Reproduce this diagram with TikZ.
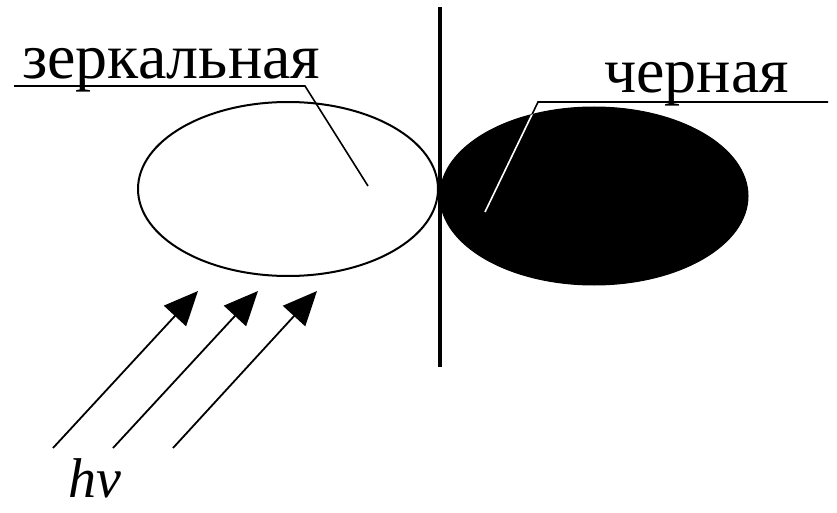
\documentclass[tikz,border=0pt]{standalone}
\usepackage{fontspec}
\setmainfont{Liberation Serif}
\usetikzlibrary{arrows.meta,shapes.geometric}
\begin{document}
\begin{tikzpicture}[x=1pt,y=-1pt,
  lbl/.style={font=\fontsize{64}{70}\selectfont, inner sep=0pt, anchor=base west},
  ray/.style={line width=1.8pt, -{Triangle[length=34pt,width=30pt]}},
  lead/.style={line width=1.6pt}]
\useasboundingbox (0,0) rectangle (837,513);
% black ellipse
\node[ellipse, draw=black, fill=black, line width=1pt, minimum width=308pt, minimum height=178pt, inner sep=0pt] (blk) at (594,196) {};
% white ellipse
\node[ellipse, draw=black, line width=2pt, minimum width=300pt, minimum height=174pt, inner sep=0pt] (mir) at (288,189) {};
% axis
\coordinate (vt) at (440,7);
\coordinate (vb) at (440,367);
\draw[line width=3.6pt] (vt) -- (vb);
% labels
\node[lbl] (tz) at (22,79) {зеркальная};
\node[lbl] (tc) at (604,93) {черная};
\coordinate (zl) at (14,86);
\coordinate (zr) at (305,86);
\coordinate (zp) at (368,186);
\draw[lead] (zl) -- (zr) -- (zp);
\coordinate (cr) at (828,102);
\coordinate (cl) at (538,102);
\coordinate (cp) at (485,212);
\draw[lead] (cr) -- (cl) -- (cp);
\begin{scope}
  \clip (594,196) ellipse [x radius=154, y radius=89];
  \draw[lead, white] (cl) -- (cp);
\end{scope}
% rays
\coordinate (s1) at (53,448);  \coordinate (t1) at (198,291);
\coordinate (s2) at (113,448); \coordinate (t2) at (258,291);
\coordinate (s3) at (173,448); \coordinate (t3) at (317,291);
\draw[ray] (s1) -- (t1);
\draw[ray] (s2) -- (t2);
\draw[ray] (s3) -- (t3);
\node[font=\fontsize{56}{62}\selectfont\itshape, inner sep=0pt, anchor=base west] (hv) at (68,497) {hν};
\end{tikzpicture}
\end{document}
